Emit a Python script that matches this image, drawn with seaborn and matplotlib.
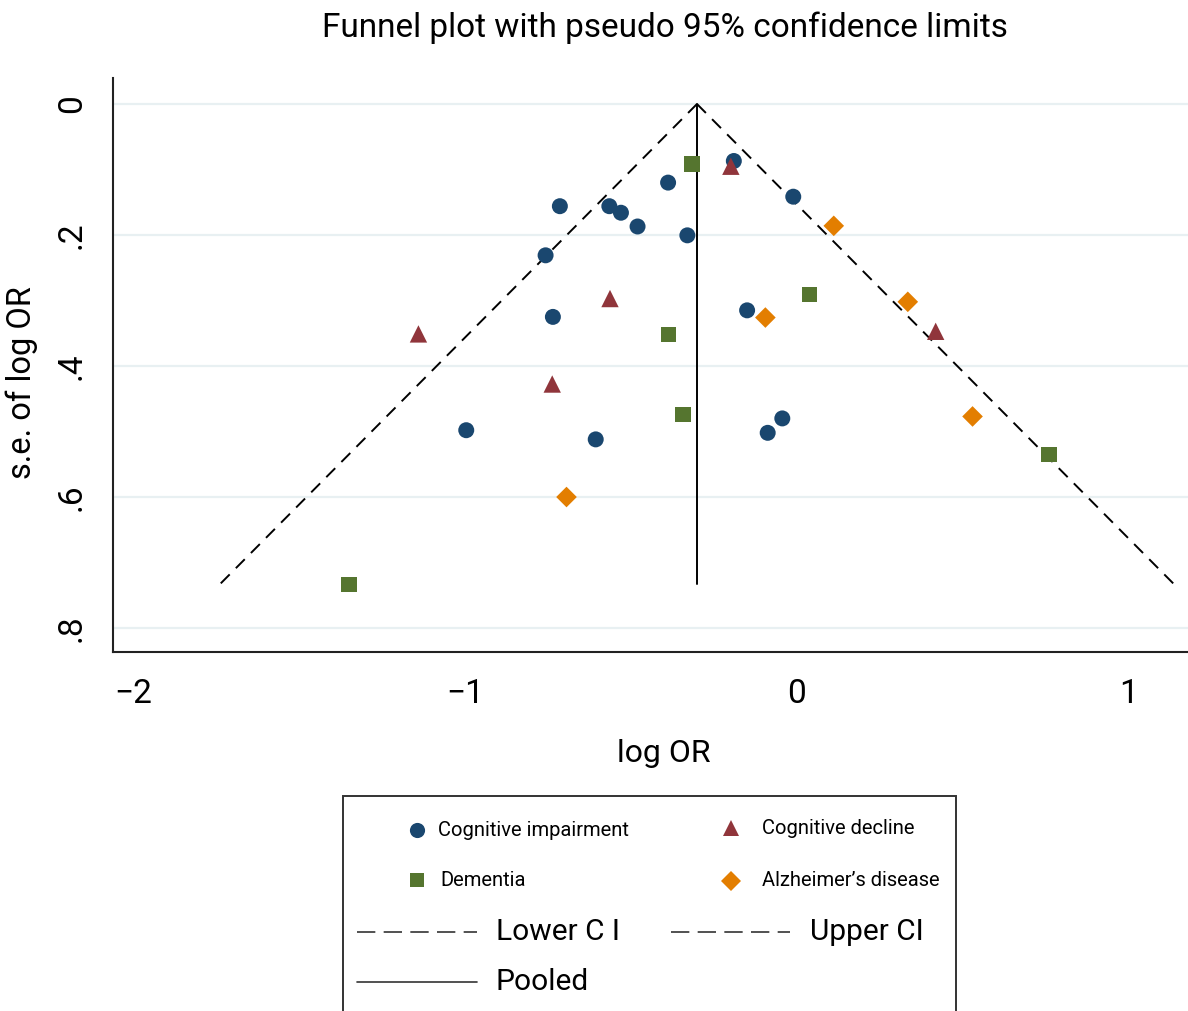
import numpy as np
import pandas as pd
import matplotlib
matplotlib.use("Agg")
import matplotlib.pyplot as plt
from matplotlib import font_manager
from matplotlib.lines import Line2D
from matplotlib.patches import Rectangle
import seaborn as sns

# ---- study estimates (log OR, standard error) by outcome ----
ci_logor = [-0.190, -0.388, -0.011, -0.714, -0.565, -0.530, -0.480, -0.330,
            -0.757, -0.735, -0.150, -0.996, -0.606, -0.044, -0.088]
ci_se = [0.087, 0.120, 0.1415, 0.156, 0.156, 0.166, 0.187, 0.2005,
         0.231, 0.325, 0.315, 0.498, 0.512, 0.480, 0.502]

cd_logor = [-0.199, -0.563, -1.140, -0.737, 0.418]
cd_se = [0.095, 0.297, 0.351, 0.4275, 0.347]

dem_logor = [-0.316, -0.387, 0.037, -0.343, 0.759, -1.349]
dem_se = [0.0916, 0.352, 0.291, 0.474, 0.535, 0.733]

ad_logor = [0.111, -0.095, 0.334, 0.529, -0.694]
ad_se = [0.186, 0.326, 0.302, 0.477, 0.600]

pooled_logor = -0.301
max_se = 0.733
z95 = 1.96

groups = ["Cognitive impairment", "Cognitive decline", "Dementia", "Alzheimer\u2019s disease"]
x_ticks = [-2, -1, 0, 1]
x_tick_labels = ["\u22122", "\u22121", "0", "1"]
y_ticks = [0, 0.2, 0.4, 0.6, 0.8]
y_tick_labels = ["0", ".2", ".4", ".6", ".8"]

colors = {groups[0]: "#1a476f", groups[1]: "#90353b",
          groups[2]: "#55752f", groups[3]: "#e37e00"}
markers = {groups[0]: "o", groups[1]: "^", groups[2]: "s", groups[3]: "D"}
msizes = {groups[0]: 11.5, groups[1]: 12.5, groups[2]: 11.0, groups[3]: 10.5}

df = pd.concat([
    pd.DataFrame({"logor": ci_logor, "se": ci_se, "group": groups[0]}),
    pd.DataFrame({"logor": cd_logor, "se": cd_se, "group": groups[1]}),
    pd.DataFrame({"logor": dem_logor, "se": dem_se, "group": groups[2]}),
    pd.DataFrame({"logor": ad_logor, "se": ad_se, "group": groups[3]}),
], ignore_index=True)

sns.set_theme(style="white")
names = {f.name for f in font_manager.fontManager.ttflist}
main_font = "Liberation Sans Narrow" if "Liberation Sans Narrow" in names else "Roboto"
plt.rcParams["font.family"] = [main_font, "DejaVu Sans"]

W, H = 1188, 1011
fig = plt.figure(figsize=(W / 100, H / 100), dpi=100)
fig.patch.set_facecolor("white")

def fx(px):
    return px / W

def fy(py):
    return 1 - py / H

ax_l, ax_r, ax_t, ax_b = 113, 1188, 78, 652
ax = fig.add_axes([fx(ax_l), fy(ax_b), fx(ax_r) - fx(ax_l), fy(ax_t) - fy(ax_b)])
ax.set_facecolor("white")

# pseudo 95% confidence limits and pooled estimate
se_line = np.array([0.0, max_se])
ax.plot(pooled_logor - z95 * se_line, se_line, color="black", lw=1.4,
        dashes=(6.5, 4.5), zorder=2)
ax.plot(pooled_logor + z95 * se_line, se_line, color="black", lw=1.4,
        dashes=(6.5, 4.5), zorder=2)
ax.plot([pooled_logor, pooled_logor], se_line, color="black", lw=1.4, zorder=2)

for g in groups:
    sub = df[df["group"] == g]
    sns.scatterplot(data=sub, x="logor", y="se", marker=markers[g],
                    color=colors[g], s=msizes[g] ** 2, linewidth=0,
                    edgecolor="none", legend=False, ax=ax, zorder=3)

ax.set_xlim(-2.060, 1.178)
ax.set_ylim(0.8366, -0.0397)

ax.set_xticks(x_ticks)
ax.set_xticklabels(x_tick_labels)
ax.set_yticks(y_ticks)
ax.set_yticklabels(y_tick_labels, rotation=90, va="center")
ax.tick_params(axis="both", which="major", direction="out", length=9,
               width=1.2, color="#222222", labelsize=24, labelcolor="black")
ax.tick_params(axis="x", pad=10)
ax.tick_params(axis="y", pad=9)
ax.yaxis.grid(True, color="#e8f0f2", lw=1.6)
ax.xaxis.grid(False)
ax.set_axisbelow(True)

for side in ["top", "right"]:
    ax.spines[side].set_visible(False)
for side in ["left", "bottom"]:
    ax.spines[side].set_color("#222222")
    ax.spines[side].set_linewidth(1.5)

ax.set_xlabel("log OR", fontsize=23, color="black")
ax.xaxis.set_label_coords((664 - ax_l) / (ax_r - ax_l), (ax_b - 753) / (ax_b - ax_t))
ax.xaxis.label.set_va("center")
ax.set_ylabel("s.e. of log OR", fontsize=23.5, color="black")
ax.yaxis.set_label_coords((22 - ax_l) / (ax_r - ax_l), (ax_b - 383) / (ax_b - ax_t))
ax.yaxis.label.set_va("center")

fig.text(fx(665), fy(28), "Funnel plot with pseudo 95% confidence limits",
         ha="center", va="center", fontsize=24, color="black")

# legend panel
fig.add_artist(Rectangle((fx(343), fy(1015)), fx(956) - fx(343), fy(796) - fy(1015),
                         transform=fig.transFigure, fill=False,
                         edgecolor="#333333", lw=1.4))

marker_rows = [
    (417, 830, 438, groups[0]),
    (731, 828, 762, groups[1]),
    (417, 880, 440, groups[2]),
    (731, 881, 762, groups[3]),
]
for mx, my, tx, g in marker_rows:
    fig.add_artist(Line2D([fx(mx)], [fy(my)], transform=fig.transFigure,
                          marker=markers[g], color=colors[g], ls="none",
                          markersize=msizes[g] * 0.95, markeredgewidth=0))
    fig.text(fx(tx), fy(my), g, ha="left", va="center", fontsize=14.5, color="black")

line_rows = [
    (357, 477, 932, 496, "Lower C I", True),
    (671, 790, 932, 810, "Upper CI", True),
    (357, 477, 982, 496, "Pooled", False),
]
for x0, x1, ly, tx, label, dashed in line_rows:
    ln = Line2D([fx(x0), fx(x1)], [fy(ly), fy(ly)], transform=fig.transFigure,
                color="#333333", lw=1.2)
    if dashed:
        ln.set_dashes((11, 5))
    fig.add_artist(ln)
    fig.text(fx(tx), fy(ly), label, ha="left", va="center", fontsize=21.5, color="black")

fig.savefig("out.png", dpi=100, facecolor="white")
